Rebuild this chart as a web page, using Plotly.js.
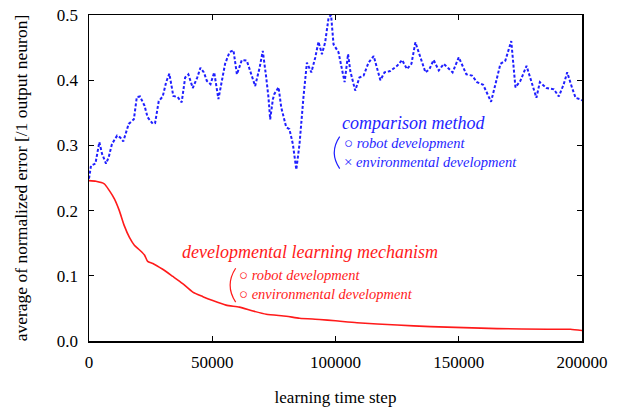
<!DOCTYPE html>
<html>
<head>
<meta charset="utf-8">
<script src="https://cdn.plot.ly/plotly-3.0.1.min.js"></script>
<style>html,body{margin:0;padding:0;background:#fff;}#chart{width:629px;height:409px;}</style>
</head>
<body>
<div id="chart"></div>
<script>
// comparison method (blue, dashed)
const compX = [0, 800, 2600, 4200, 5300, 6900, 8000, 9300, 11400, 12700, 13900, 15000, 16100, 18200, 19400, 20700, 22500, 23800, 25900, 26800, 28300, 29900, 31300, 32600, 34200, 36000, 37600, 39000, 40300, 42100, 43900, 45200, 46600, 47800, 49300, 50800, 51900, 52500, 53900, 55200, 57000, 58600, 60000, 62000, 64000, 65700, 67400, 69200, 70500, 71900, 72800, 73500, 74600, 75200, 76900, 78000, 80000, 81300, 82700, 84100, 85400, 87000, 88400, 90200, 91800, 93100, 94500, 95800, 97200, 98200, 99200, 101200, 103700, 105100, 106000, 108000, 109700, 111400, 113400, 115500, 118200, 119900, 122200, 125000, 127000, 129000, 130800, 132400, 134400, 136500, 138100, 139800, 141900, 143900, 145900, 147500, 150000, 153100, 155400, 157400, 159900, 161500, 163100, 164900, 166900, 168900, 171300, 173000, 175000, 177500, 179400, 181500, 182900, 185600, 188600, 190600, 192600, 194000, 196000, 197400, 199100, 200000];
const compY = [0.249, 0.269, 0.272, 0.305, 0.287, 0.272, 0.282, 0.302, 0.315, 0.312, 0.306, 0.318, 0.333, 0.340, 0.374, 0.375, 0.361, 0.343, 0.333, 0.334, 0.368, 0.375, 0.397, 0.410, 0.376, 0.374, 0.366, 0.404, 0.409, 0.388, 0.404, 0.419, 0.412, 0.399, 0.394, 0.412, 0.384, 0.371, 0.399, 0.425, 0.443, 0.446, 0.409, 0.431, 0.430, 0.409, 0.391, 0.419, 0.445, 0.404, 0.374, 0.340, 0.371, 0.379, 0.389, 0.358, 0.328, 0.325, 0.302, 0.263, 0.302, 0.374, 0.427, 0.412, 0.435, 0.459, 0.440, 0.458, 0.496, 0.500, 0.455, 0.443, 0.397, 0.440, 0.414, 0.384, 0.404, 0.407, 0.427, 0.437, 0.400, 0.412, 0.414, 0.422, 0.431, 0.417, 0.425, 0.458, 0.435, 0.412, 0.417, 0.431, 0.415, 0.425, 0.418, 0.412, 0.435, 0.409, 0.407, 0.397, 0.393, 0.379, 0.367, 0.394, 0.425, 0.430, 0.460, 0.389, 0.399, 0.422, 0.399, 0.373, 0.397, 0.388, 0.386, 0.375, 0.394, 0.412, 0.388, 0.373, 0.371, 0.369];

// developmental learning mechanism (red, solid)
const devX = [0, 2800, 6200, 8200, 10300, 12300, 14300, 16400, 18400, 20400, 22500, 23800, 25900, 29900, 34000, 38000, 42100, 46200, 50200, 55600, 61000, 66500, 71900, 80000, 85400, 93500, 100000, 108700, 125000, 138500, 152000, 165600, 185900, 195300, 200000];
const devY = [0.246, 0.245, 0.241, 0.231, 0.218, 0.200, 0.177, 0.159, 0.147, 0.140, 0.132, 0.122, 0.119, 0.110, 0.099, 0.088, 0.075, 0.068, 0.062, 0.055, 0.052, 0.046, 0.041, 0.038, 0.035, 0.033, 0.031, 0.028, 0.0245, 0.022, 0.0205, 0.019, 0.018, 0.018, 0.016];

const xTicks = [0, 50000, 100000, 150000, 200000];
const yTicks = [0.0, 0.1, 0.2, 0.3, 0.4, 0.5];

const serif = "Liberation Serif";
const blue = "#1f1fff";
const red = "#ff1a1a";
const circ = "<span style='font-style:normal;font-size:15px'>○</span>";
const cross = "<span style='font-style:normal;font-size:15px'>×</span>";

const traces = [
  {x: compX, y: compY, mode: "lines", line: {color: blue, width: 2, dash: "3px,2px"}, hoverinfo: "skip"},
  {x: devX, y: devY, mode: "lines", line: {color: red, width: 1.6, shape: "spline", smoothing: 0.6}, hoverinfo: "skip"}
];

const axisCommon = {
  showgrid: false, zeroline: false, showline: true, linecolor: "#000", linewidth: 1.5,
  mirror: "ticks", ticks: "inside", ticklen: 5, tickwidth: 1, tickcolor: "#000",
  tickfont: {family: serif, size: 17, color: "#000"}
};

const layout = {
  width: 629, height: 409,
  margin: {l: 89, r: 47, t: 15, b: 68},
  paper_bgcolor: "#fff", plot_bgcolor: "#fff",
  font: {family: serif, size: 17, color: "#000"},
  showlegend: false,
  xaxis: Object.assign({}, axisCommon, {
    range: [0, 200000], tickvals: xTicks, ticktext: xTicks.map(v => String(v)),
    ticklabelstandoff: 5,
    title: {text: "learning time step", font: {family: serif, size: 17, color: "#000"}, standoff: 20}
  }),
  yaxis: Object.assign({}, axisCommon, {
    range: [0, 0.5], tickvals: yTicks, ticktext: yTicks.map(v => v.toFixed(1)),
    ticklabelstandoff: 6,
    title: {text: "average of normalized error [/1 output neuron]", font: {family: serif, size: 17.5, color: "#000"}, standoff: 24}
  }),
  annotations: [
    {x: 102000, y: 0.335, xanchor: "left", yanchor: "middle", showarrow: false,
     text: "comparison method", font: {family: serif, size: 18, color: blue, style: "italic"}},
    {x: 102600, y: 0.3035, xanchor: "left", yanchor: "middle", showarrow: false,
     text: circ + " robot development", font: {family: serif, size: 14.5, color: blue, style: "italic"}},
    {x: 102600, y: 0.2745, xanchor: "left", yanchor: "middle", showarrow: false,
     text: cross + " environmental development", font: {family: serif, size: 14.5, color: blue, style: "italic"}},
    {x: 37000, y: 0.136, xanchor: "left", yanchor: "middle", showarrow: false,
     text: "developmental learning mechanism", font: {family: serif, size: 18, color: red, style: "italic"}},
    {x: 60000, y: 0.101, xanchor: "left", yanchor: "middle", showarrow: false,
     text: circ + " robot development", font: {family: serif, size: 14.5, color: red, style: "italic"}},
    {x: 60000, y: 0.072, xanchor: "left", yanchor: "middle", showarrow: false,
     text: circ + " environmental development", font: {family: serif, size: 14.5, color: red, style: "italic"}}
  ],
  shapes: [
    {type: "path", xref: "x", yref: "y", path: "M 101700 0.3135 Q 97300 0.289 101700 0.2645", line: {color: blue, width: 1.2}},
    {type: "path", xref: "x", yref: "y", path: "M 59500 0.1116 Q 55000 0.0856 59500 0.0596", line: {color: red, width: 1.2}}
  ]
};

Plotly.newPlot("chart", traces, layout, {staticPlot: true, displayModeBar: false});
</script>
</body>
</html>
